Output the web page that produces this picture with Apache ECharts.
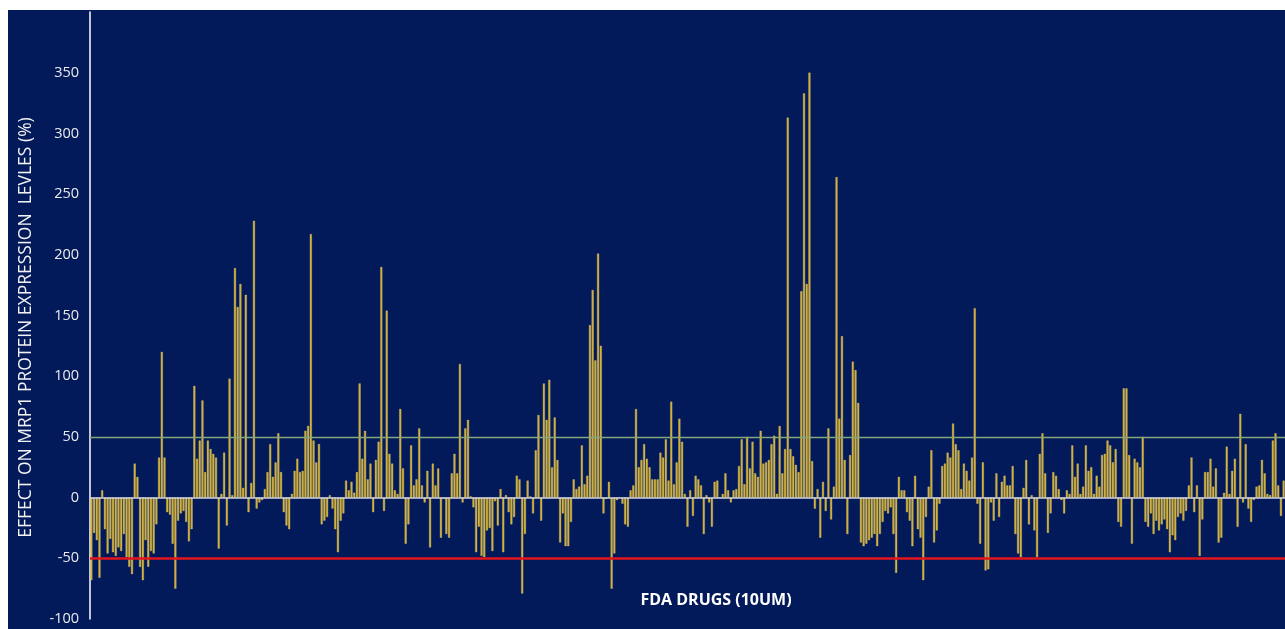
<!DOCTYPE html>
<html>
<head>
<meta charset="utf-8">
<script src="https://cdn.jsdelivr.net/npm/echarts@6/dist/echarts.min.js"></script>
<style>
  html, body { margin: 0; padding: 0; background: #ffffff; width: 1285px; height: 629px; overflow: hidden; }
  #chart { position: absolute; left: 8px; top: 10px; width: 1277px; height: 619px; }
</style>
</head>
<body>
<div id="chart"></div>
<script>
// Effect of each FDA drug (10 uM) on MRP1 protein expression, % change vs control
const effectValues = [
  -68, -29, -35, -66, 6, -26, -46, -34, -45, -48, -41, -44, -30, -49, -57, -63, 28, 17, -57, -68, -35, -57, -44, -46, -22, 33, 120, 33, -12, -14, -38, -75, -19, -13, -11,
  -20, -36, -26, 92, 32, 47, 80, 21, 47, 40, 36, 33, -42, 3, 37, -23, 98, 2, 189, 157, 176, 8, 167, -12, 12, 228, -9, -4, -2, 7, 21, 44, 17, 29, 53, 21, -12,
  -23, -26, 3, 22, 32, 21, 22, 55, 59, 217, 47, 29, 44, -22, -19, -16, 2, -9, -26, -45, -19, -13, 14, 6, 13, 4, 21, 94, 32, 55, 15, 28, -12, 31, 46, 190, -11,
  154, 36, 28, 6, 3, 73, 24, -38, -22, 43, 10, 15, 57, 10, -4, 22, -41, 28, 10, 24, -33, -1, -30, -33, 20, 36, 20, 110, -4, 57, 64, 1, -8, -45, -24, -48, -49,
  -27, -25, -44, -3, -23, 7, -45, 2, -12, -22, -16, 18, 15, -79, -30, 14, 1, -13, 39, 68, -19, 94, 64, 97, 25, 66, 31, -37, -13, -40, -40, -20, 15, 7, 9, 43, 11,
  18, 142, 171, 113, 201, 125, -13, -1, 13, -75, -46, -2, 0, -5, -22, -24, 6, 10, 73, 25, 31, 44, 32, 25, 15, 15, 15, 37, 33, 48, 14, 79, 11, 29, 65, 46, 3,
  -24, 6, -15, 18, 15, 10, -30, 2, -4, -24, 13, 14, 0, 3, 20, 6, -4, 6, 7, 26, 48, 11, 50, 24, 46, 20, 17, 55, 28, 29, 31, 44, 51, 3, 59, 20, 40,
  313, 40, 34, 27, 21, 170, 333, 176, 350, 30, -9, 7, -33, 13, -11, 57, -18, 9, 264, 65, 133, 31, -30, 35, 112, 105, 78, -37, -40, -38, -35, -33, -30, -40, -30, -20, -11,
  -13, -8, -30, -62, 17, 6, 6, -12, -19, -40, 18, -26, -33, -68, -16, 9, 39, -37, -27, -5, 26, 28, 37, 33, 61, 44, 39, 7, 28, 22, 14, 33, 156, -5, -38, 29, -60,
  -59, -4, -19, 20, -16, 13, 18, 10, 10, 26, -30, -46, -49, 8, 31, -22, 2, -27, -49, 36, 53, 20, -29, -13, 21, 18, 7, -2, -13, 6, 3, 43, 17, 28, 3, 9, 43,
  22, 25, 3, 18, 9, 35, 36, 47, 43, 29, 40, -20, -24, 90, 90, 35, -38, 32, 29, 25, 50, -20, -24, -13, -30, -19, -27, -22, -18, -26, -45, -31, -35, -16, -13, -19, -11,
  10, 33, -12, 10, -48, -18, 21, 21, 32, 9, 24, -37, -33, 4, 42, 3, 22, 32, -24, 69, -4, 44, -9, -20, -2, 9, 10, 31, 20, 3, 2, 47, 53, 10, -15, 14
];

// One category per screened drug
const drugIds = effectValues.map((_, i) => 'Drug ' + (i + 1));

// Reference levels: +50% induction and -50% reduction
const upperThreshold = 50;
const lowerThreshold = -50;

// Value axis ticks
const yTicks = { min: -100, max: 400, interval: 50 };

const chart = echarts.init(document.getElementById('chart'));

chart.setOption({
  backgroundColor: '#02195a',
  animation: false,
  grid: { left: 82, right: 0, top: 2, bottom: 10 },
  xAxis: {
    type: 'category',
    data: drugIds,
    boundaryGap: true,
    axisLine: { show: false },
    axisTick: { show: false },
    axisLabel: { show: false },
    splitLine: { show: false }
  },
  yAxis: {
    type: 'value',
    min: yTicks.min,
    max: yTicks.max,
    interval: yTicks.interval,
    name: 'EFFECT ON MRP1 PROTEIN EXPRESSION  LEVLES (%)',
    nameLocation: 'middle',
    nameGap: 55,
    nameTextStyle: {
      color: '#f2f2f2', fontSize: 17.5, fontFamily: 'Open Sans', fontWeight: 500,
      padding: [0, 24, 0, 0]
    },
    axisLine: { show: true, lineStyle: { color: '#ffffff', width: 1.5 } },
    axisTick: { show: false },
    splitLine: { show: false },
    axisLabel: {
      color: '#ececec',
      fontSize: 14.5,
      fontFamily: 'Open Sans',
      margin: 11,
      formatter: v => (v === yTicks.max ? '' : String(v))
    }
  },
  graphic: [{
    type: 'text',
    x: 716 - 8,
    y: 600 - 10,
    style: {
      text: 'FDA DRUGS (10UM)',
      fill: '#ffffff',
      font: 'bold 16px "Open Sans"',
      textAlign: 'center',
      textVerticalAlign: 'middle'
    }
  }],
  series: [{
    type: 'bar',
    data: effectValues,
    barWidth: 2,
    itemStyle: { color: '#d2ac2c', borderColor: '#ebd88e', borderWidth: 0.3 },
    markLine: {
      silent: true,
      symbol: ['none', 'none'],
      label: { show: false },
      z: 5,
      data: [
        { yAxis: upperThreshold, lineStyle: { color: '#86a77a', width: 1.3, type: 'solid' } },
        { yAxis: 0, lineStyle: { color: '#d4d4dc', width: 1.5, type: 'solid' } },
        { yAxis: lowerThreshold, lineStyle: { color: '#e3141e', width: 2.5, type: 'solid' } }
      ]
    }
  }]
});
</script>
</body>
</html>
